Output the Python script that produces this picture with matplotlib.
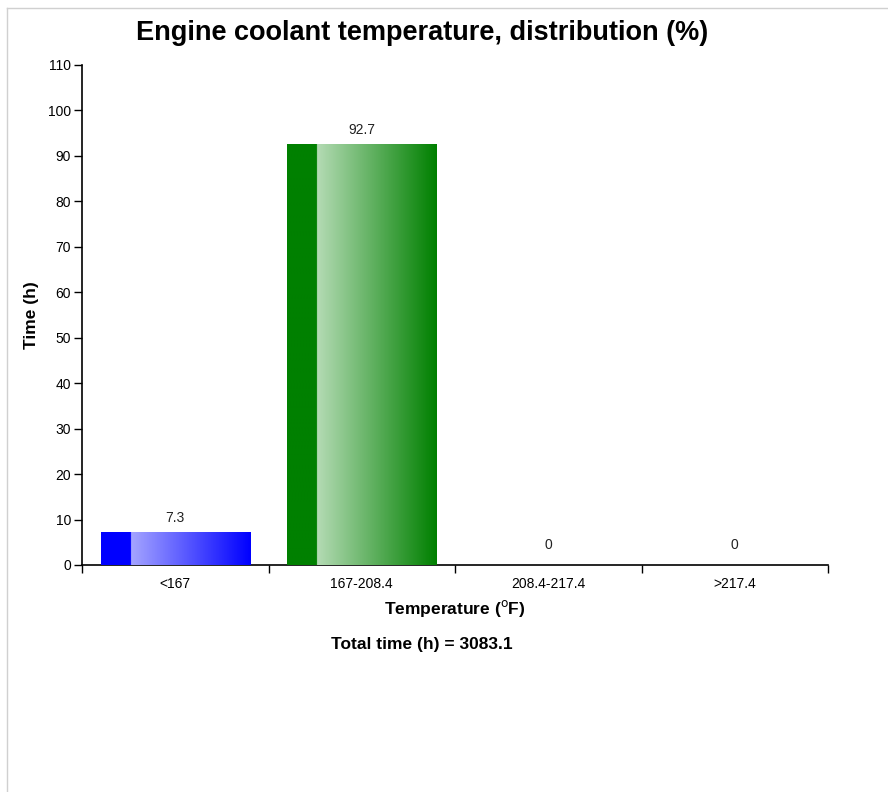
import numpy as np
import matplotlib.pyplot as plt
from matplotlib.colors import LinearSegmentedColormap
from matplotlib.lines import Line2D

# ---- data ----
categories = ["<167", "167-208.4", "208.4-217.4", ">217.4"]
values = [7.3, 92.7, 0, 0]
total_time = 3083.1
y_ticks = list(range(0, 111, 10))

bar_dark = ["#0000ff", "#008000", "#0000ff", "#008000"]
bar_light = ["#a4a4ff", "#b4dbb4", "#a4a4ff", "#b4dbb4"]

plt.rcParams["font.family"] = ["Liberation Sans", "DejaVu Sans"]

fig = plt.figure(figsize=(8.88, 7.92), dpi=100)
ax = fig.add_axes([82 / 888, 1 - 565 / 792, 746 / 888, 500 / 792])

x = np.arange(len(categories))
width = 0.8
bars = ax.bar(x, values, width=width, color=bar_dark, edgecolor="none", zorder=2)

# gradient fill: solid dark strip on the left, then light -> dark
t = np.linspace(0, 1, 400)
for b, dark, light, v in zip(bars, bar_dark, bar_light, values):
    if v <= 0:
        continue
    cmap = LinearSegmentedColormap.from_list("g", [(0, dark), (0.199, dark), (0.2, light), (1, dark)])
    x0 = b.get_x()
    img = ax.imshow(t[np.newaxis, :], cmap=cmap, aspect="auto",
                    extent=[x0, x0 + b.get_width(), 0, v], zorder=3)
    img.set_clip_path(b)

for xi, v in zip(x, values):
    off = 14 if v > 0 else 20
    ax.annotate(f"{v:g}", (xi, v), xytext=(0, off), textcoords="offset pixels",
                ha="center", va="center", fontsize=10, color="#222222")

ax.set_xlim(-0.5, len(categories) - 0.5)
ax.set_ylim(0, 110)
ax.set_yticks(y_ticks)
ax.tick_params(axis="y", labelsize=10, length=6, width=1, direction="out", pad=2)

ax.set_xticks(np.arange(-0.5, len(categories)), [""] * (len(categories) + 1))
ax.set_xticks(x, categories, minor=True)
ax.tick_params(axis="x", which="major", length=6, width=1, direction="out")
ax.tick_params(axis="x", which="minor", length=0, labelsize=10, pad=9)

for s in ["top", "right"]:
    ax.spines[s].set_visible(False)
for s in ["left", "bottom"]:
    ax.spines[s].set_linewidth(1.2)

ax.set_xlabel("Temperature ($^{\\mathrm{o}}$F)", fontsize=12.5, fontweight="bold", labelpad=5)
ax.set_ylabel("Time (h)", fontsize=12.5, fontweight="bold", labelpad=6)

fig.text(422 / 888, 1 - 33 / 792, "Engine coolant temperature, distribution (%)",
         ha="center", va="center", fontsize=19.5, fontweight="bold")
fig.text(422 / 888, 1 - 645 / 792, f"Total time (h) = {total_time}",
         ha="center", va="center", fontsize=12.5, fontweight="bold")

# light page frame
fig.add_artist(Line2D([7 / 888, 7 / 888], [0, 1 - 8 / 792], color="#d0d0d0", lw=1))
fig.add_artist(Line2D([7 / 888, 1], [1 - 8 / 792, 1 - 8 / 792], color="#d0d0d0", lw=1))

fig.savefig("out.png", dpi=100)
